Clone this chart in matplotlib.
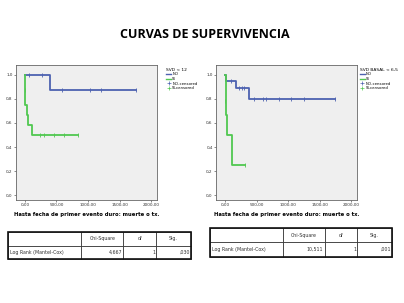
import matplotlib
matplotlib.use("Agg")
import matplotlib.pyplot as plt
from matplotlib.lines import Line2D

# ---- data ----
xticks = [0, 500, 1000, 1500, 2000]
xtick_labels = ["0,00", "500,00", "1000,00", "1500,00", "2000,00"]
yticks = [0.0, 0.2, 0.4, 0.6, 0.8, 1.0]
ytick_labels = ["0,0", "0,2", "0,4", "0,6", "0,8", "1,0"]

# Left plot (SVD < 12)
L_no_t = [0, 397, 1762]
L_no_s = [1.0, 0.875, 0.875]
L_no_ct = [69, 265, 587, 1037, 1206, 1762]
L_no_cs = [1.0, 1.0, 0.875, 0.875, 0.875, 0.875]
L_si_t = [0, 8, 30, 55, 115, 170, 836]
L_si_s = [1.0, 0.75, 0.667, 0.583, 0.5, 0.5, 0.5]
L_si_ct = [4, 243, 296, 466, 624, 836]
L_si_cs = [0.875, 0.5, 0.5, 0.5, 0.5, 0.5]

# Right plot (SVD BASAL < 6,5)
R_no_t = [0, 12, 168, 379, 1747]
R_no_s = [1.0, 0.947, 0.888, 0.8, 0.8]
R_no_ct = [90, 220, 263, 300, 463, 605, 647, 858, 1042, 1242, 1747]
R_no_cs = [0.947, 0.888, 0.888, 0.888, 0.8, 0.8, 0.8, 0.8, 0.8, 0.8, 0.8]
R_si_t = [0, 10, 37, 116, 316]
R_si_s = [1.0, 0.667, 0.5, 0.25, 0.25]
R_si_ct = [4, 316]
R_si_cs = [0.78, 0.25]

title = "CURVAS DE SUPERVIVENCIA"
xlabel = "Hasta fecha de primer evento duro: muerte o tx."
legend_labels = ["NO", "SI", "NO-censored", "SI-censored"]

tbl_cols = ["", "Chi-Square", "df", "Sig."]
tblL_row = ["Log Rank (Mantel-Cox)", "4,667", "1", ",030"]
tblR_row = ["Log Rank (Mantel-Cox)", "10,511", "1", ",001"]

BLUE = "#4d62b0"
GREEN = "#50c850"

fig = plt.figure(figsize=(4.04, 3.03), dpi=100)
fig.patch.set_facecolor("white")
fig.text(0.508, 0.885, title, ha="center", va="center", fontsize=9,
         fontweight="bold", family="Open Sans")


def km(rect, no_t, no_s, no_ct, no_cs, si_t, si_s, si_ct, si_cs, leg_title, leg_x):
    ax = fig.add_axes(rect)
    ax.set_facecolor("#efefef")
    ax.step(no_t, no_s, where="post", color=BLUE, lw=1.3)
    ax.step(si_t, si_s, where="post", color=GREEN, lw=1.3)
    ax.plot(no_ct, no_cs, ls="none", marker="|", ms=3, mew=0.6, color=BLUE)
    ax.plot(si_ct, si_cs, ls="none", marker="|", ms=3, mew=0.6, color=GREEN)
    ax.set_xlim(-140, 2090)
    ax.set_ylim(-0.04, 1.08)
    ax.set_xticks(xticks)
    ax.set_xticklabels(xtick_labels)
    ax.set_yticks(yticks)
    ax.set_yticklabels(ytick_labels)
    ax.tick_params(labelsize=3, length=1.5, width=0.4, pad=1, colors="#333333")
    for s in ax.spines.values():
        s.set_color("#666666")
        s.set_linewidth(0.6)
    ax.set_xlabel(xlabel, fontsize=3.8, fontweight="bold", labelpad=3)
    handles = [Line2D([], [], color=BLUE, lw=1.0),
               Line2D([], [], color=GREEN, lw=1.0),
               Line2D([], [], color=BLUE, ls="none", marker="+", ms=3, mew=0.5),
               Line2D([], [], color=GREEN, ls="none", marker="+", ms=3, mew=0.5)]
    leg = fig.legend(handles, legend_labels, title=leg_title, loc="upper left",
                     bbox_to_anchor=(leg_x, 0.785), frameon=False, fontsize=2.8,
                     title_fontsize=3.2, handlelength=1.2, handletextpad=0.3,
                     labelspacing=0.15, borderpad=0.2)
    leg._legend_box.align = "left"
    return ax


km([0.0396, 0.34, 0.349, 0.445], L_no_t, L_no_s, L_no_ct, L_no_cs,
   L_si_t, L_si_s, L_si_ct, L_si_cs, "SVD < 12", 0.405)
km([0.535, 0.34, 0.349, 0.445], R_no_t, R_no_s, R_no_ct, R_no_cs,
   R_si_t, R_si_s, R_si_ct, R_si_cs, "SVD BASAL < 6,5", 0.884)


def table(rect, row, widths):
    ax = fig.add_axes(rect)
    ax.axis("off")
    t = ax.table(cellText=[tbl_cols, row], bbox=[0, 0, 1, 1], colWidths=widths,
                 cellLoc="right")
    t.auto_set_font_size(False)
    for (r, c), cell in t.get_celld().items():
        cell.set_linewidth(0.5)
        cell.set_edgecolor("#222222")
        cell.get_text().set_fontsize(3.4)
        cell.get_text().set_color("#333333")
        cell.PAD = 0.03
        if r == 0:
            cell.get_text().set_ha("center")
            cell._loc = "center"
        elif c == 0:
            cell._loc = "left"
            cell.get_text().set_ha("left")
    ax.add_patch(plt.Rectangle((0, 0), 1, 1, transform=ax.transAxes, fill=False,
                               lw=1.2, ec="#111111", clip_on=False))


table([0.0198, 0.145, 0.453, 0.089], tblL_row, [0.40, 0.23, 0.18, 0.19])
table([0.52, 0.152, 0.45, 0.096], tblR_row, [0.40, 0.23, 0.18, 0.19])

fig.savefig("out.png", dpi=100)
